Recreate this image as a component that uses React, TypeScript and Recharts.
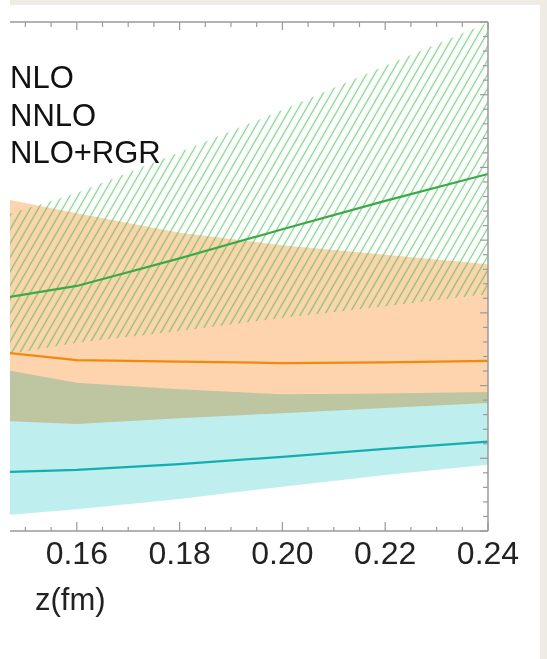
import React from "react";
import {
  ComposedChart,
  Area,
  Line,
  XAxis,
  YAxis,
  Legend,
  Label,
} from "recharts";

// z (fm) sample points
const zValues = [0.14, 0.16, 0.18, 0.2, 0.22, 0.24];

// NLO (green, hatched)
const nloCentral = [3.14, 3.37, 3.75, 4.15, 4.54, 4.91];
const nloUpper = [4.21, 4.65, 5.21, 5.79, 6.4, 6.99];
const nloLower = [2.35, 2.59, 2.75, 2.93, 3.09, 3.26];

// NNLO (orange)
const nnloCentral = [2.5, 2.35, 2.33, 2.31, 2.32, 2.34];
const nnloUpper = [4.65, 4.37, 4.1, 3.93, 3.8, 3.67];
const nnloLower = [1.53, 1.47, 1.55, 1.62, 1.69, 1.76];

// NNLO+RGR (cyan)
const rgrCentral = [0.8, 0.84, 0.92, 1.02, 1.13, 1.23];
const rgrUpper = [2.29, 2.04, 1.95, 1.88, 1.89, 1.91];
const rgrLower = [0.18, 0.3, 0.44, 0.61, 0.77, 0.91];

const legendNames = ["NLO", "NNLO", "NLO+RGR"];

const xTicks = [
  0.14, 0.145, 0.15, 0.155, 0.16, 0.165, 0.17, 0.175, 0.18, 0.185, 0.19,
  0.195, 0.2, 0.205, 0.21, 0.215, 0.22, 0.225, 0.23, 0.235, 0.24,
];
const xMajor = [0.14, 0.16, 0.18, 0.2, 0.22, 0.24];
// labels visible inside the cropped frame
const xLabels = [0.16, 0.18, 0.2, 0.22, 0.24];

const yTicks = [
  0, 0.2, 0.4, 0.6, 0.8, 1, 1.2, 1.4, 1.6, 1.8, 2, 2.2, 2.4, 2.6, 2.8, 3,
  3.2, 3.4, 3.6, 3.8, 4, 4.2, 4.4, 4.6, 4.8, 5, 5.2, 5.4, 5.6, 5.8, 6, 6.2,
  6.4, 6.6, 6.8, 7,
];

const data = zValues.map((z, i) => ({
  z,
  nlo: nloCentral[i],
  nloBand: [nloLower[i], nloUpper[i]],
  nnlo: nnloCentral[i],
  nnloBand: [nnloLower[i], nnloUpper[i]],
  rgr: rgrCentral[i],
  rgrBand: [rgrLower[i], rgrUpper[i]],
}));

const FONT = "'Liberation Sans', Arial, Helvetica, sans-serif";
const AXIS = "#9a9a9a";

const inList = (list: number[], v: number) => list.some((m) => Math.abs(m - v) < 1e-6);
const isMajorY = (v: number) => Math.abs(v - Math.round(v)) < 1e-6;

const BottomTick = (props: any) => {
  const { x, y, payload } = props;
  const major = inList(xMajor, payload.value);
  return (
    <g>
      <line x1={x} x2={x} y1={y} y2={y - (major ? 9 : 4)} stroke={AXIS} strokeWidth={1.2} />
      {inList(xLabels, payload.value) && (
        <text x={x} y={y + 33} textAnchor="middle" fontSize={32} fontFamily={FONT} fill="#222">
          {payload.value.toFixed(2)}
        </text>
      )}
    </g>
  );
};

const TopTick = (props: any) => {
  const { x, y, payload } = props;
  const major = inList(xMajor, payload.value);
  return <line x1={x} x2={x} y1={y} y2={y + (major ? 8 : 5)} stroke={AXIS} strokeWidth={1.2} />;
};

const RightTick = (props: any) => {
  const { x, y, payload } = props;
  const major = isMajorY(payload.value);
  return <line x1={x} x2={x - (major ? 8 : 5)} y1={y} y2={y} stroke={AXIS} strokeWidth={1.2} />;
};

const renderLegend = (props: any) => {
  const items = (props.payload || [])
    .filter((e: any) => legendNames.includes(e.value))
    .sort((a: any, b: any) => legendNames.indexOf(a.value) - legendNames.indexOf(b.value));
  return (
    <div>
      {items.map((e: any) => (
        <div
          key={e.value}
          style={{
            fontSize: 31,
            lineHeight: "37.5px",
            fontFamily: FONT,
            color: "#111",
            whiteSpace: "nowrap",
          }}
        >
          {e.value}
        </div>
      ))}
    </div>
  );
};

const App: React.FC = () => {
  return (
    <div
      style={{
        position: "absolute",
        left: 0,
        top: 0,
        width: 547,
        height: 659,
        background: "#fff",
        overflow: "hidden",
      }}
    >
      <style>{`.band-multiply { mix-blend-mode: multiply; }`}</style>
      <div style={{ position: "absolute", left: 10, top: 0, width: 537, height: 5, background: "#eeebe5" }} />
      <div style={{ position: "absolute", left: 540, top: 0, width: 7, height: 659, background: "#eeebe5" }} />
      <div
        style={{
          position: "absolute",
          left: 10,
          top: 5,
          width: 530,
          height: 654,
          overflow: "hidden",
          background: "#fff",
        }}
      >
        <div style={{ position: "absolute", left: -36, top: 0 }}>
          <ComposedChart
            width={554}
            height={616}
            data={data}
            margin={{ top: 17, right: 40, bottom: 0, left: 0 }}
          >
            <defs>
              <pattern
                id="hatch"
                patternUnits="userSpaceOnUse"
                width={7}
                height={7}
                patternTransform="rotate(30)"
              >
                <line x1={3.5} y1={0} x2={3.5} y2={7} stroke="#3cbf50" strokeOpacity={0.65} strokeWidth={1.3} />
              </pattern>
            </defs>
            <XAxis
              dataKey="z"
              type="number"
              domain={[0.14, 0.24]}
              ticks={xTicks}
              interval={0}
              height={90}
              tickSize={0}
              tickMargin={0}
              tick={BottomTick}
              axisLine={{ stroke: AXIS, strokeWidth: 1.5 }}
              tickLine={false}
              allowDataOverflow
            >
              <Label
                content={(p: any) => (
                  <text
                    x={(p.viewBox?.x ?? 0) + 61}
                    y={(p.viewBox?.y ?? 0) + 79}
                    fontSize={31}
                    fontFamily={FONT}
                    fill="#222"
                  >
                    z(fm)
                  </text>
                )}
              />
            </XAxis>
            <XAxis
              xAxisId="top"
              dataKey="z"
              type="number"
              orientation="top"
              mirror
              domain={[0.14, 0.24]}
              ticks={xTicks}
              interval={0}
              tickSize={0}
              tickMargin={0}
              tick={TopTick}
              axisLine={{ stroke: AXIS, strokeWidth: 1.5 }}
              tickLine={false}
            />
            <YAxis
              orientation="right"
              mirror
              type="number"
              domain={[0, 7]}
              ticks={yTicks}
              interval={0}
              tickSize={0}
              tickMargin={0}
              tick={RightTick}
              axisLine={{ stroke: AXIS, strokeWidth: 1.5 }}
              tickLine={false}
              allowDataOverflow
            />
            <Legend
              layout="vertical"
              align="center"
              verticalAlign="middle"
              content={renderLegend}
              wrapperStyle={{ left: 36, top: 54, width: "auto" }}
            />
            <Area
              dataKey="rgrBand"
              fill="#bfeeee"
              fillOpacity={1}
              stroke="none"
              legendType="none"
              isAnimationActive={false}
              activeDot={false}
            />
            <Area
              className="band-multiply"
              dataKey="nnloBand"
              fill="#fdd4ad"
              fillOpacity={1}
              stroke="none"
              legendType="none"
              isAnimationActive={false}
              activeDot={false}
            />
            <Area
              dataKey="nloBand"
              fill="url(#hatch)"
              fillOpacity={1}
              stroke="none"
              legendType="none"
              isAnimationActive={false}
              activeDot={false}
            />
            <Line
              name="NLO"
              dataKey="nlo"
              stroke="#3aaa48"
              strokeWidth={2.2}
              dot={false}
              activeDot={false}
              isAnimationActive={false}
            />
            <Line
              name="NNLO"
              dataKey="nnlo"
              stroke="#f08a0c"
              strokeWidth={2.2}
              dot={false}
              activeDot={false}
              isAnimationActive={false}
            />
            <Line
              name="NLO+RGR"
              dataKey="rgr"
              stroke="#12aeb0"
              strokeWidth={2.2}
              dot={false}
              activeDot={false}
              isAnimationActive={false}
            />
          </ComposedChart>
        </div>
      </div>
    </div>
  );
};

export default App;
